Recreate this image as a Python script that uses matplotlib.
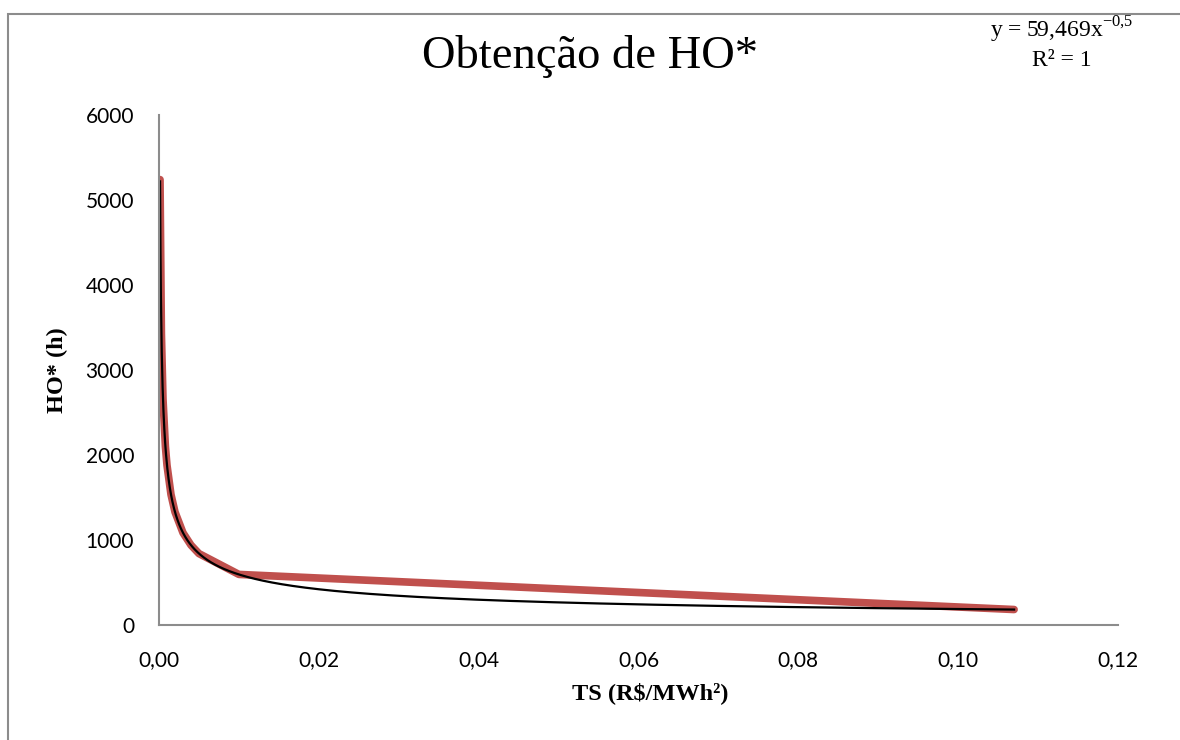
import numpy as np
import matplotlib.pyplot as plt
from matplotlib.patches import Rectangle
from matplotlib.ticker import FuncFormatter

# TS (R$/MWh²) vs HO* (h)
ts = [0.00013, 0.0003, 0.0005, 0.0008, 0.001, 0.0015, 0.002, 0.003, 0.004, 0.005, 0.01, 0.107]
ho = [5240, 3430, 2660, 2100, 1880, 1535, 1330, 1085, 940, 840, 595, 182]

title = "Obtenção de HO*"
xlabel = "TS (R$/MWh²)"
ylabel = "HO* (h)"
xticks = [0.0, 0.02, 0.04, 0.06, 0.08, 0.10, 0.12]
yticks = [0, 1000, 2000, 3000, 4000, 5000, 6000]

# power trendline fitted on the points
b, loga = np.polyfit(np.log(ts), np.log(ho), 1)
xf = np.linspace(min(ts), max(ts), 2000)
yf = np.exp(loga) * xf**b

W, H = 1180, 740
fig = plt.figure(figsize=(11.8, 7.4), dpi=100)
ax = fig.add_axes([159 / W, 115 / H, (1118 - 159) / W, (625 - 115) / H])

ax.plot(ts, ho, color="#c0504d", lw=5.5, solid_capstyle="round", solid_joinstyle="round")
ax.plot(xf, yf, color="black", lw=1.6)

ax.set_xlim(0, 0.12)
ax.set_ylim(0, 6000)
ax.set_xticks(xticks)
ax.set_yticks(yticks)
ax.xaxis.set_major_formatter(FuncFormatter(lambda v, p: f"{v:.2f}".replace(".", ",")))
ax.tick_params(length=0, labelsize=15)
ax.tick_params(axis="x", pad=18)
ax.tick_params(axis="y", pad=18)
for lab in ax.get_xticklabels() + ax.get_yticklabels():
    lab.set_family("Lato")

for s in ["top", "right"]:
    ax.spines[s].set_visible(False)
for s in ["left", "bottom"]:
    ax.spines[s].set_color("#8c8c8c")
    ax.spines[s].set_linewidth(1.5)

serif = "Liberation Serif"
fig.text(650 / W, 1 - 693 / H, xlabel, family=serif, fontweight="bold", fontsize=17.5,
         ha="center", va="center")
fig.text(57 / W, 1 - 370 / H, ylabel, family=serif, fontweight="bold", fontsize=17.5,
         ha="center", va="center", rotation=90)

fig.text(590 / W, 1 - 57 / H, title, family=serif, fontsize=33.5, ha="center", va="center")
fig.text(1062 / W, 1 - 30 / H, r"y = 59,469x$^{\mathregular{-0{,}5}}$", family=serif,
         fontsize=17, ha="center", va="center")
fig.text(1062 / W, 1 - 60 / H, "R² = 1", family=serif, fontsize=17, ha="center", va="center")

# chart area border (cropped on right/bottom)
fig.patches.append(Rectangle((8 / W, -0.05), 1.1, 1.05 - 14 / H, transform=fig.transFigure,
                             fill=False, edgecolor="#8c8c8c", lw=1.5))

fig.savefig("out.png", dpi=100)
